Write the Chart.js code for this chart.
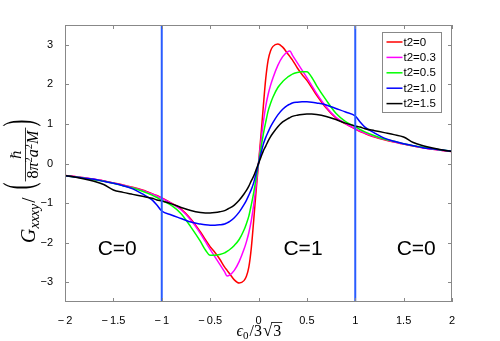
<!DOCTYPE html>
<html>
<head>
<meta charset="utf-8">
<script src="https://cdn.jsdelivr.net/npm/chart.js@4.4.1/dist/chart.umd.min.js"></script>
<style>
html, body { margin: 0; padding: 0; background: #fff; }
canvas { display: block; }
</style>
</head>
<body>
<canvas id="chart" width="500" height="341"></canvas>
<script>
// x values (epsilon_0 / 3 sqrt 3)
const xs = [-2, -1.9, -1.8, -1.7, -1.6, -1.5, -1.4, -1.3, -1.2, -1.1, -1.05, -1, -0.9, -0.8, -0.7, -0.6, -0.55, -0.5, -0.45, -0.4, -0.35, -0.325, -0.3, -0.25, -0.2, -0.15, -0.125, -0.1, -0.075, -0.05, -0.025,
    0, 0.025, 0.05, 0.075, 0.1, 0.125, 0.15, 0.2, 0.25, 0.3, 0.325, 0.35, 0.4, 0.45, 0.5, 0.55, 0.6, 0.7, 0.8, 0.9, 1, 1.05, 1.1, 1.2, 1.3, 1.4, 1.5, 1.6, 1.7, 1.8, 1.9, 2];

const t2_0 = [-0.3, -0.33, -0.36, -0.4, -0.44, -0.49, -0.54, -0.6, -0.67, -0.76, -0.81, -0.87, -1.0, -1.15, -1.4, -1.73, -1.92, -2.1, -2.25, -2.42, -2.62, -2.7, -2.78, -2.94, -3.02, -2.96, -2.85, -2.62, -2.15, -1.45, -0.7,
    0, 0.7, 1.45, 2.15, 2.62, 2.85, 2.96, 3.02, 2.94, 2.78, 2.7, 2.62, 2.42, 2.25, 2.1, 1.92, 1.73, 1.4, 1.15, 1.0, 0.87, 0.81, 0.76, 0.67, 0.6, 0.54, 0.49, 0.44, 0.4, 0.36, 0.33, 0.3];
const t2_03 = [-0.3, -0.33, -0.36, -0.4, -0.44, -0.49, -0.55, -0.61, -0.68, -0.77, -0.82, -0.88, -1.01, -1.17, -1.43, -1.77, -1.97, -2.17, -2.36, -2.55, -2.74, -2.84, -2.82, -2.7, -2.48, -2.17, -1.98, -1.75, -1.45, -1.05, -0.55,
    0, 0.55, 1.05, 1.45, 1.75, 1.98, 2.17, 2.48, 2.7, 2.82, 2.84, 2.74, 2.55, 2.36, 2.17, 1.97, 1.77, 1.43, 1.17, 1.01, 0.88, 0.82, 0.77, 0.68, 0.61, 0.55, 0.49, 0.44, 0.4, 0.36, 0.33, 0.3];
const t2_05 = [-0.31, -0.34, -0.37, -0.41, -0.45, -0.5, -0.56, -0.62, -0.7, -0.8, -0.86, -0.93, -1.06, -1.27, -1.6, -1.97, -2.18, -2.32, -2.32, -2.3, -2.26, -2.22, -2.18, -2.07, -1.92, -1.68, -1.52, -1.33, -1.05, -0.74, -0.38,
    0, 0.38, 0.74, 1.05, 1.33, 1.52, 1.68, 1.92, 2.07, 2.18, 2.22, 2.26, 2.3, 2.32, 2.32, 2.18, 1.97, 1.6, 1.27, 1.06, 0.93, 0.86, 0.8, 0.7, 0.62, 0.56, 0.5, 0.45, 0.41, 0.37, 0.34, 0.31];
const t2_10 = [-0.31, -0.34, -0.37, -0.4, -0.45, -0.5, -0.56, -0.64, -0.77, -0.92, -1.05, -1.2, -1.3, -1.39, -1.48, -1.53, -1.55, -1.56, -1.56, -1.55, -1.53, -1.5, -1.47, -1.37, -1.23, -1.04, -0.93, -0.8, -0.66, -0.49, -0.25,
    0, 0.25, 0.49, 0.66, 0.8, 0.93, 1.04, 1.23, 1.37, 1.47, 1.5, 1.53, 1.55, 1.56, 1.56, 1.55, 1.53, 1.48, 1.39, 1.3, 1.2, 1.05, 0.92, 0.77, 0.64, 0.56, 0.5, 0.45, 0.4, 0.37, 0.34, 0.31];
const t2_15 = [-0.3, -0.34, -0.39, -0.45, -0.53, -0.67, -0.73, -0.78, -0.83, -0.88, -0.92, -0.95, -1.02, -1.11, -1.19, -1.24, -1.25, -1.25, -1.24, -1.22, -1.19, -1.16, -1.13, -1.05, -0.93, -0.77, -0.68, -0.57, -0.44, -0.32, -0.16,
    0, 0.16, 0.32, 0.44, 0.57, 0.68, 0.77, 0.93, 1.05, 1.13, 1.16, 1.19, 1.22, 1.24, 1.25, 1.25, 1.24, 1.19, 1.11, 1.02, 0.95, 0.92, 0.88, 0.83, 0.78, 0.73, 0.67, 0.53, 0.45, 0.39, 0.34, 0.3];

const seriesLabels = ["t2=0", "t2=0.3", "t2=0.5", "t2=1.0", "t2=1.5"];
const seriesValues = [t2_0, t2_03, t2_05, t2_10, t2_15];
const seriesColors = ["#ff0000", "#ff00ff", "#00ff00", "#0000ff", "#000000"];

const xTicks = [-2, -1.5, -1, -0.5, 0, 0.5, 1, 1.5, 2];
const yTicks = [-3, -2, -1, 0, 1, 2, 3];
const xMin = -2, xMax = 2, yMin = -3.5, yMax = 3.5;

// phase boundaries and region labels
const boundaryX = [-1, 1];
const regionLabels = ["C=0", "C=1", "C=0"];
const regionX = [-1.46, 0.46, 1.63];
const regionY = [-2.16, -2.16, -2.16];

const sans = '"Liberation Sans", Arial, sans-serif';
const serif = '"Liberation Serif", "DejaVu Serif", serif';

// later series are drawn on top, like the original plot
const datasets = seriesValues.map((vals, i) => ({
    label: seriesLabels[i],
    data: xs.map((x, j) => ({ x: x, y: vals[j] })),
    borderColor: seriesColors[i],
    borderWidth: 1.5,
    pointRadius: 0,
    fill: false,
    order: 10 - i,
    cubicInterpolationMode: "monotone"
}));
boundaryX.forEach(bx => {
    datasets.push({
        label: "",
        data: [{ x: bx, y: yMin }, { x: bx, y: yMax }],
        borderColor: "#2a5cff",
        borderWidth: 2,
        pointRadius: 0,
        fill: false,
        order: 0
    });
});

const framePlugin = {
    id: "frame",
    afterDatasetsDraw(chart) {
        const ctx = chart.ctx;
        const a = chart.chartArea;
        const sx = chart.scales.x, sy = chart.scales.y;
        ctx.save();
        ctx.strokeStyle = "#888";
        ctx.lineWidth = 1;
        ctx.strokeRect(a.left + 0.5, a.top + 0.5, a.right - a.left - 1, a.bottom - a.top - 1);
        ctx.beginPath();
        xTicks.forEach(v => {
            const p = Math.round(sx.getPixelForValue(v)) + 0.5;
            ctx.moveTo(p, a.bottom); ctx.lineTo(p, a.bottom - 4);
            ctx.moveTo(p, a.top); ctx.lineTo(p, a.top + 4);
        });
        yTicks.forEach(v => {
            const p = Math.round(sy.getPixelForValue(v)) + 0.5;
            ctx.moveTo(a.left, p); ctx.lineTo(a.left + 4, p);
            ctx.moveTo(a.right, p); ctx.lineTo(a.right - 4, p);
        });
        ctx.stroke();

        // region labels
        ctx.fillStyle = "#000";
        ctx.font = "21px " + sans;
        ctx.textAlign = "center";
        ctx.textBaseline = "middle";
        regionLabels.forEach((t, i) => {
            ctx.fillText(t, sx.getPixelForValue(regionX[i]), sy.getPixelForValue(regionY[i]));
        });

        // legend
        const bw = 59, bh = 80;
        const bl = a.right - 11 - bw, bt = a.top + 7;
        ctx.fillStyle = "#fff";
        ctx.fillRect(bl, bt, bw, bh);
        ctx.strokeStyle = "#888";
        ctx.strokeRect(bl + 0.5, bt + 0.5, bw, bh);
        ctx.font = "11.5px " + sans;
        ctx.textAlign = "left";
        seriesLabels.forEach((t, i) => {
            const y = bt + 10 + i * 15.4;
            ctx.strokeStyle = seriesColors[i];
            ctx.lineWidth = 1.5;
            ctx.beginPath();
            ctx.moveTo(bl + 4.5, y); ctx.lineTo(bl + 20.5, y);
            ctx.stroke();
            ctx.fillStyle = "#000";
            ctx.fillText(t, bl + 21.5, y + 0.5);
        });
        ctx.restore();
    },
    afterDraw(chart) {
        const ctx = chart.ctx;
        ctx.save();
        ctx.fillStyle = "#000";
        ctx.strokeStyle = "#000";
        ctx.textAlign = "left";
        ctx.textBaseline = "alphabetic";

        // x title: eps_0 / 3 sqrt(3)
        let x = 236.5;
        const base = 336;
        ctx.font = "italic 16px " + serif;
        ctx.fillText("\u03f5", x, base); x += ctx.measureText("\u03f5").width;
        ctx.font = "11px " + serif;
        ctx.fillText("0", x, base + 3); x += ctx.measureText("0").width + 1;
        ctx.font = "16px " + serif;
        ctx.fillText("/3", x, base); x += ctx.measureText("/3").width + 1;
        ctx.font = "17px " + serif;
        const m = ctx.measureText("\u221a");
        ctx.fillText("\u221a", x, base);
        const topY = base - m.actualBoundingBoxAscent + 0.5;
        x += m.width;
        ctx.font = "16px " + serif;
        const w3 = ctx.measureText("3").width;
        ctx.fillText("3", x + 1, base);
        ctx.lineWidth = 0.8;
        ctx.beginPath();
        ctx.moveTo(x - 1, topY); ctx.lineTo(x + w3 + 2, topY);
        ctx.stroke();

        // y title, rotated: local (lx, ly) -> screen (ly, -lx)
        ctx.rotate(-Math.PI / 2);
        let lx = -243;
        ctx.font = "italic 20px " + serif;
        ctx.fillText("G", lx, 35); lx += ctx.measureText("G").width;
        ctx.font = "italic 14px " + serif;
        ctx.fillText("xxxy", lx, 39); lx += ctx.measureText("xxxy").width + 1;
        ctx.font = "19px " + serif;
        ctx.fillText("/", lx, 35); lx += ctx.measureText("/").width + 8;

        function paren(ch, at) {
            ctx.save();
            ctx.font = "21px " + serif;
            const pm = ctx.measureText(ch);
            const mid = (pm.actualBoundingBoxAscent - pm.actualBoundingBoxDescent) / 2;
            ctx.translate(at, 22);
            ctx.scale(1, 2.05);
            ctx.fillText(ch, 0, mid);
            ctx.restore();
            return pm.width;
        }
        lx += paren("(", lx) + 1;

        // fraction hbar / 8 pi^2 a^2 M
        const den = [["8", "16px " + serif, 0], ["\u03c0", "italic 16px " + serif, 0], ["2", "10.5px " + serif, -6],
            ["a", "italic 16px " + serif, 0], ["2", "10.5px " + serif, -6], ["M", "italic 16px " + serif, 0]];
        let dw = 0;
        den.forEach(d => { ctx.font = d[1]; dw += ctx.measureText(d[0]).width; });
        const fw = dw + 6;
        let dx = lx + 3;
        den.forEach(d => { ctx.font = d[1]; ctx.fillText(d[0], dx, 38 + d[2]); dx += ctx.measureText(d[0]).width; });
        ctx.font = "italic 14px \"DejaVu Serif\", serif";
        const hw = ctx.measureText("\u210f").width;
        ctx.fillText("\u210f", lx + fw / 2 - hw / 2, 21);
        ctx.lineWidth = 0.8;
        ctx.beginPath();
        ctx.moveTo(lx, 25.5); ctx.lineTo(lx + fw, 25.5);
        ctx.stroke();
        lx += fw + 1;
        paren(")", lx);
        ctx.restore();
    }
};

new Chart(document.getElementById("chart"), {
    type: "line",
    data: { datasets: datasets },
    options: {
        responsive: false,
        animation: false,
        devicePixelRatio: 1,
        layout: { padding: { left: 0, right: 48, top: 25, bottom: 0 } },
        plugins: { legend: { display: false }, tooltip: { enabled: false } },
        scales: {
            x: {
                type: "linear",
                min: xMin,
                max: xMax,
                afterBuildTicks: s => { s.ticks = xTicks.map(v => ({ value: v })); },
                afterFit: s => { s.height = 39; },
                grid: { display: false },
                border: { display: false },
                ticks: {
                    autoSkip: false,
                    maxRotation: 0,
                    padding: 4,
                    color: "#000",
                    font: { family: sans, size: 11 },
                    callback: v => (v < 0 ? "\u2212\u2009" + Math.abs(v) : String(v))
                }
            },
            y: {
                type: "linear",
                min: yMin,
                max: yMax,
                afterBuildTicks: s => { s.ticks = yTicks.map(v => ({ value: v })); },
                afterFit: s => { s.width = 65; },
                grid: { display: false },
                border: { display: false },
                ticks: {
                    padding: 4,
                    color: "#000",
                    font: { family: sans, size: 11 },
                    callback: v => (v < 0 ? "\u2212" + Math.abs(v) : String(v))
                }
            }
        }
    },
    plugins: [framePlugin]
});
</script>
</body>
</html>
